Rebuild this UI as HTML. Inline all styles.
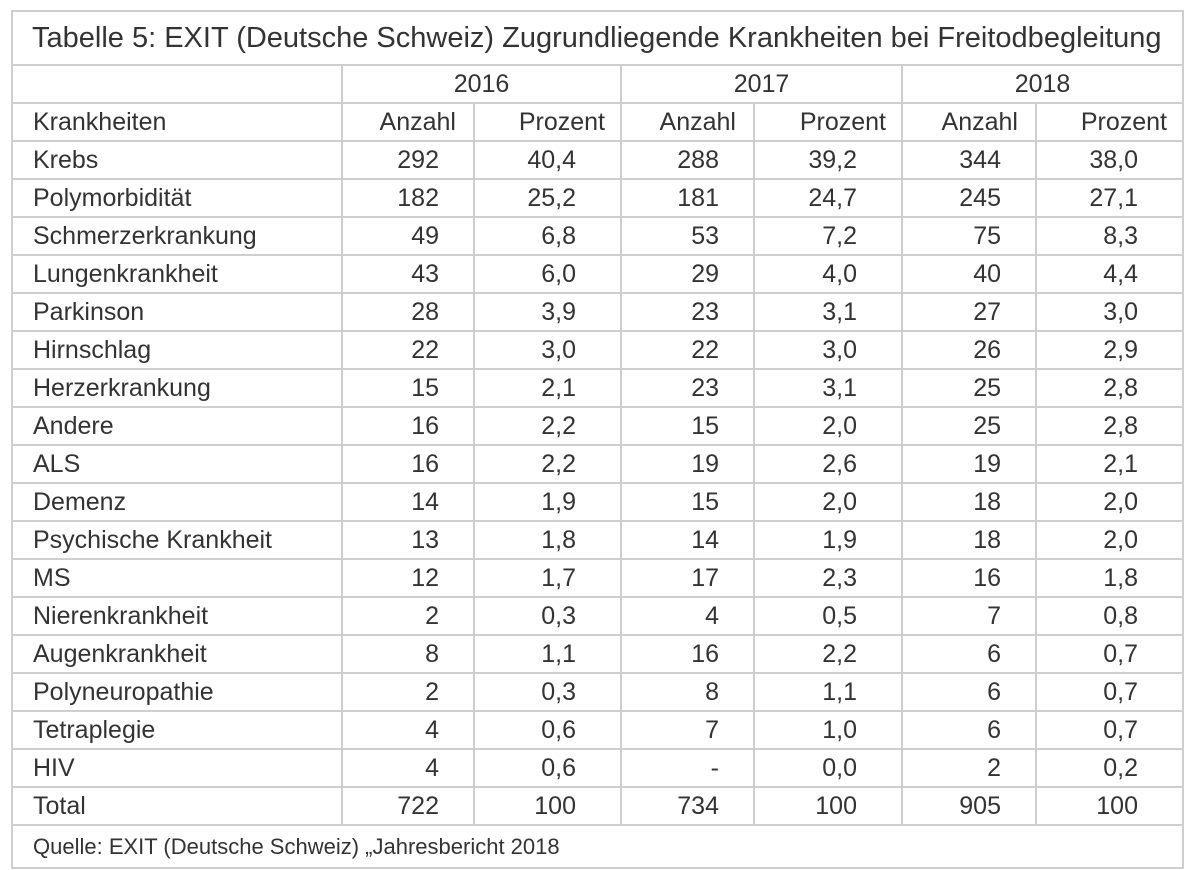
<!DOCTYPE html>
<html><head><meta charset="utf-8"><style>
html,body{margin:0;padding:0;background:#fff;width:1200px;height:870px;overflow:hidden}
table{position:absolute;left:11px;top:10px;border-collapse:collapse;table-layout:fixed;font-family:"Liberation Sans",sans-serif;color:#333;font-size:25px}
td{border:2px solid #cfcfcf;padding:0;height:36px;line-height:36px;white-space:nowrap;overflow:hidden}
td.l{padding-left:20px;text-align:left}
td.a{text-align:right;padding-right:34px}
td.p{text-align:right;padding-right:44px}
td.c{text-align:center}
td.ha{text-align:right;padding-right:17px}
td.hp{text-align:right;padding-right:15px}
tr.t td{height:52px;line-height:52px;font-size:29px;padding-left:19px}
tr.s td{height:41px;line-height:41px;font-size:22px;padding-left:20px}
</style></head><body>
<table>
<colgroup><col style="width:330px"><col style="width:132px"><col style="width:147px"><col style="width:133px"><col style="width:148px"><col style="width:134px"><col style="width:147px"></colgroup>
<tr class="t"><td colspan="7">Tabelle 5: EXIT (Deutsche Schweiz) Zugrundliegende Krankheiten bei Freitodbegleitung</td></tr>
<tr><td></td><td class="c" colspan="2">2016</td><td class="c" colspan="2">2017</td><td class="c" colspan="2">2018</td></tr>
<tr><td class="l">Krankheiten</td><td class="ha">Anzahl</td><td class="hp">Prozent</td><td class="ha">Anzahl</td><td class="hp">Prozent</td><td class="ha">Anzahl</td><td class="hp">Prozent</td></tr>
<tr><td class="l">Krebs</td><td class="a">292</td><td class="p">40,4</td><td class="a">288</td><td class="p">39,2</td><td class="a">344</td><td class="p">38,0</td></tr>
<tr><td class="l">Polymorbidität</td><td class="a">182</td><td class="p">25,2</td><td class="a">181</td><td class="p">24,7</td><td class="a">245</td><td class="p">27,1</td></tr>
<tr><td class="l">Schmerzerkrankung</td><td class="a">49</td><td class="p">6,8</td><td class="a">53</td><td class="p">7,2</td><td class="a">75</td><td class="p">8,3</td></tr>
<tr><td class="l">Lungenkrankheit</td><td class="a">43</td><td class="p">6,0</td><td class="a">29</td><td class="p">4,0</td><td class="a">40</td><td class="p">4,4</td></tr>
<tr><td class="l">Parkinson</td><td class="a">28</td><td class="p">3,9</td><td class="a">23</td><td class="p">3,1</td><td class="a">27</td><td class="p">3,0</td></tr>
<tr><td class="l">Hirnschlag</td><td class="a">22</td><td class="p">3,0</td><td class="a">22</td><td class="p">3,0</td><td class="a">26</td><td class="p">2,9</td></tr>
<tr><td class="l">Herzerkrankung</td><td class="a">15</td><td class="p">2,1</td><td class="a">23</td><td class="p">3,1</td><td class="a">25</td><td class="p">2,8</td></tr>
<tr><td class="l">Andere</td><td class="a">16</td><td class="p">2,2</td><td class="a">15</td><td class="p">2,0</td><td class="a">25</td><td class="p">2,8</td></tr>
<tr><td class="l">ALS</td><td class="a">16</td><td class="p">2,2</td><td class="a">19</td><td class="p">2,6</td><td class="a">19</td><td class="p">2,1</td></tr>
<tr><td class="l">Demenz</td><td class="a">14</td><td class="p">1,9</td><td class="a">15</td><td class="p">2,0</td><td class="a">18</td><td class="p">2,0</td></tr>
<tr><td class="l">Psychische Krankheit</td><td class="a">13</td><td class="p">1,8</td><td class="a">14</td><td class="p">1,9</td><td class="a">18</td><td class="p">2,0</td></tr>
<tr><td class="l">MS</td><td class="a">12</td><td class="p">1,7</td><td class="a">17</td><td class="p">2,3</td><td class="a">16</td><td class="p">1,8</td></tr>
<tr><td class="l">Nierenkrankheit</td><td class="a">2</td><td class="p">0,3</td><td class="a">4</td><td class="p">0,5</td><td class="a">7</td><td class="p">0,8</td></tr>
<tr><td class="l">Augenkrankheit</td><td class="a">8</td><td class="p">1,1</td><td class="a">16</td><td class="p">2,2</td><td class="a">6</td><td class="p">0,7</td></tr>
<tr><td class="l">Polyneuropathie</td><td class="a">2</td><td class="p">0,3</td><td class="a">8</td><td class="p">1,1</td><td class="a">6</td><td class="p">0,7</td></tr>
<tr><td class="l">Tetraplegie</td><td class="a">4</td><td class="p">0,6</td><td class="a">7</td><td class="p">1,0</td><td class="a">6</td><td class="p">0,7</td></tr>
<tr><td class="l">HIV</td><td class="a">4</td><td class="p">0,6</td><td class="a">-</td><td class="p">0,0</td><td class="a">2</td><td class="p">0,2</td></tr>
<tr><td class="l">Total</td><td class="a">722</td><td class="p">100</td><td class="a">734</td><td class="p">100</td><td class="a">905</td><td class="p">100</td></tr>
<tr class="s"><td colspan="7">Quelle: EXIT (Deutsche Schweiz) „Jahresbericht 2018</td></tr>
</table>
</body></html>
